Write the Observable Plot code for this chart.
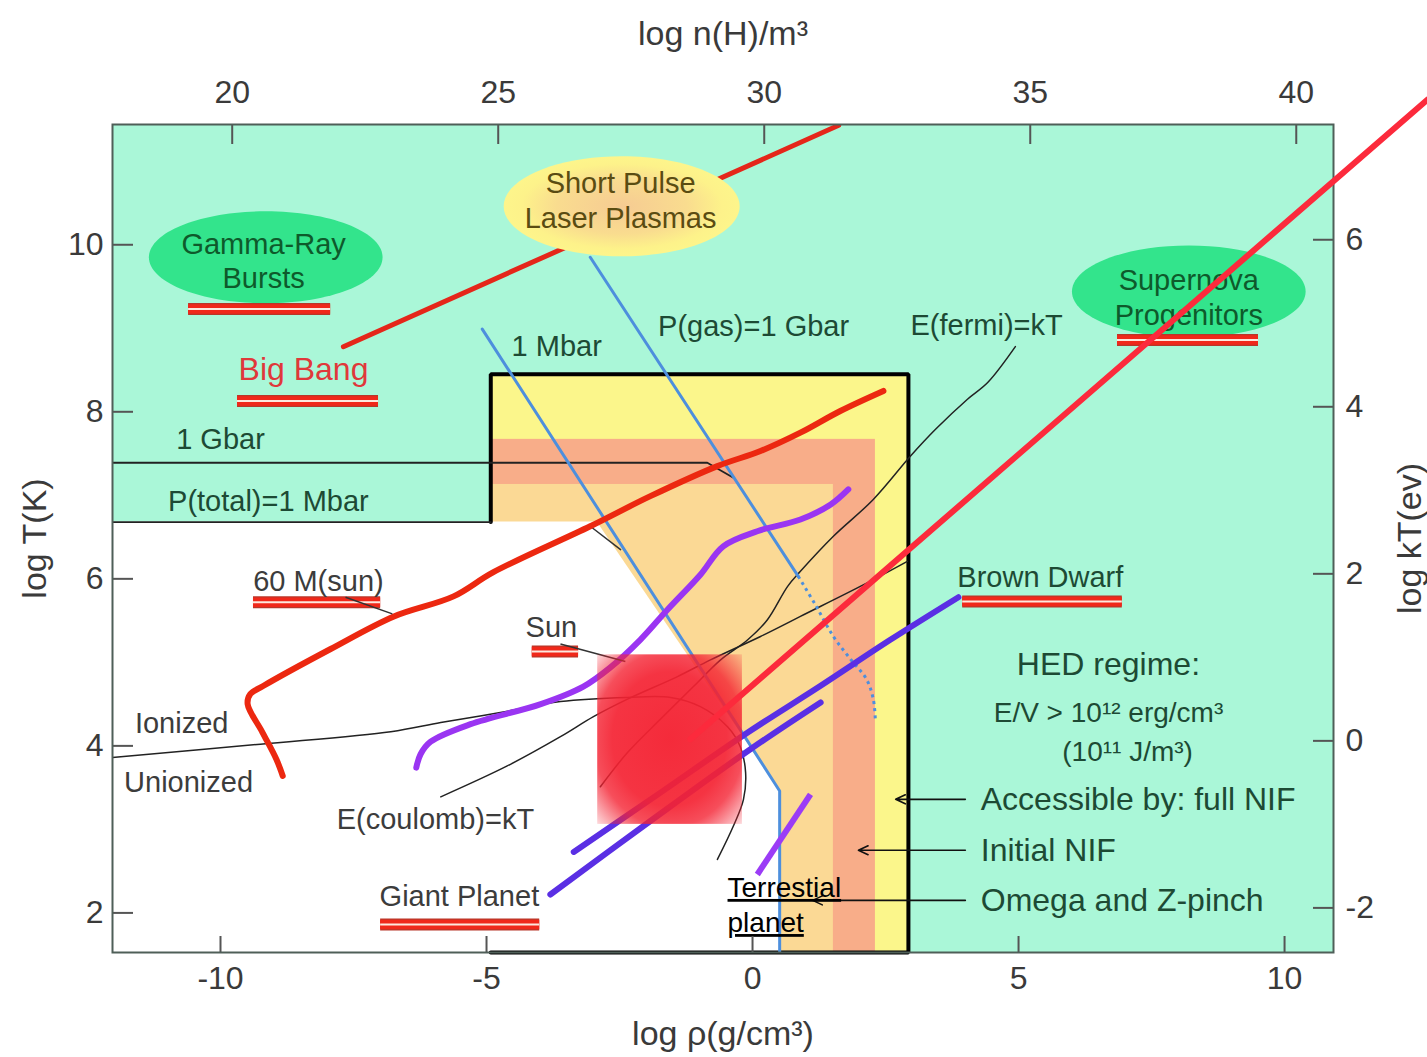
<!DOCTYPE html>
<html>
<head>
<meta charset="utf-8">
<script src="https://cdn.jsdelivr.net/npm/d3@7"></script>
<script src="https://cdn.jsdelivr.net/npm/@observablehq/plot@0.6"></script>
<style>
  body { margin: 0; background: #fff; }
  g[aria-description="underlined"] text { text-decoration: underline; }
</style>
</head>
<body>
<div id="chart"></div>
<script>
// ---- Frame limits: log ρ (g/cm³) horizontally, log T (K) vertically ----
const rhoDomain = [-12.03, 10.92];
const tDomain = [1.526, 11.44];

// ---- Axis ticks ----
const rhoTicks = [-10, -5, 0, 5, 10];
const tTicks = [2, 4, 6, 8, 10];
const nTicks = [20, 25, 30, 35, 40];      // log n(H)/m³ (top)
const kTTicks = [-2, 0, 2, 4, 6];         // log kT(eV) (right)
const nOffset = 29.78;                    // log n(H)/m³ = log ρ + 29.78
const kOffset = 4.06;                     // log kT(eV) = log T − 4.06

// ---- Regions ----
const mbarT = 6.68;                       // P(total) = 1 Mbar level
const nifLeft = -4.92;
const nifRegions = [
  {name: "full NIF", rhoMax: 2.93, tMax: 8.45},
  {name: "initial NIF", rhoMax: 2.31, tMax: 7.67},
  {name: "Omega / Z-pinch", rhoMax: 1.52, tMax: 7.13}
];
const lowPressureRegion = [[-12.03, 6.68], [-2.92, 6.68], [0.39, 3.58], [0.51, 3.46], [0.51, 1.526]];

// ---- Curves [log ρ, log T] ----
const bigBang = [[-7.69, 8.78], [1.62, 11.43]];
const star60 = [[-8.83, 3.64], [-8.95, 3.84], [-9.21, 4.16], [-9.49, 4.50], [-9.44, 4.62], [-9.19, 4.72],
  [-7.93, 5.16], [-6.74, 5.55], [-5.62, 5.79], [-4.87, 6.08], [-3.05, 6.63], [-1.92, 6.99],
  [-0.66, 7.35], [0.15, 7.53], [0.90, 7.75], [1.65, 8.01], [2.46, 8.25]];
const sunTrack = [[-6.32, 3.74], [-6.24, 3.90], [-6.05, 4.05], [-5.30, 4.26], [-3.98, 4.50], [-3.18, 4.71],
  [-2.67, 4.94], [-2.11, 5.27], [-1.60, 5.63], [-0.98, 6.05], [-0.55, 6.39], [0.09, 6.57],
  [0.90, 6.71], [1.47, 6.89], [1.80, 7.07]];
const mbarLine = [[-5.08, 8.99], [0.39, 3.58], [0.51, 3.46], [0.51, 1.45]];
const gbarSolid = [[-3.05, 9.85], [0.86, 6.03]];
const gbarDotted = [[0.86, 6.03], [1.18, 5.69], [1.52, 5.31], [1.84, 5.04], [2.14, 4.80], [2.27, 4.56], [2.31, 4.29]];
const totalGbar = [[-12.03, 7.39], [-0.85, 7.39], [-0.36, 7.21]];
const totalMbar = [[-12.03, 6.68], [-4.92, 6.68]];
const totalMbarBend = [[-3.05, 6.63], [-2.48, 6.35]];
const fermi = [[4.94, 8.78], [4.42, 8.35], [4.04, 8.15], [3.44, 7.79], [2.97, 7.47], [2.27, 6.95], [1.52, 6.51],
  [0.90, 6.09], [0.66, 5.91], [0.28, 5.51], [-0.09, 5.27], [-0.60, 5.03], [-1.11, 4.71], [-1.73, 4.32],
  [-2.35, 3.92], [-2.86, 3.51]];
const coulomb = [[-5.86, 3.39], [-4.61, 3.76], [-3.61, 4.11], [-2.99, 4.35], [-2.35, 4.56], [-1.41, 4.83],
  [-0.79, 5.03], [0.15, 5.31], [0.90, 5.55], [2.09, 5.93], [2.91, 6.21]];
const ionized = [[-12.03, 3.86], [-9.25, 4.02], [-6.80, 4.17], [-5.86, 4.28], [-4.74, 4.40], [-3.61, 4.53],
  [-2.35, 4.58], [-1.54, 4.58], [-0.98, 4.47], [-0.47, 4.23], [-0.23, 3.99], [-0.13, 3.68],
  [-0.17, 3.36], [-0.36, 3.04], [-0.66, 2.64]];
const brownDwarf = [[-3.36, 2.73], [-1.73, 3.44], [-0.09, 4.16], [1.28, 4.72], [2.59, 5.27], [3.87, 5.78]];
const giantPlanet = [[-3.80, 2.22], [-1.92, 3.10], [-0.04, 3.96], [1.28, 4.52]];
const terrestrial = [[0.09, 2.46], [1.09, 3.42]];

// ---- Annotations [log ρ, log T, text] ----
const greenEllipses = [[-9.15, 9.85], [8.20, 9.44]];
const pulseEllipse = [[-2.46, 10.46]];
const ellipseLabels = [[-9.19, 9.82, "Gamma-Ray\nBursts"], [8.20, 9.38, "Supernova\nProgenitors"]];
const pulseLabel = [[-2.48, 10.54, "Short Pulse\nLaser Plasmas"]];
const bigBangLabel = [[-8.44, 8.53, "Big Bang"]];
const regionLabels = [
  [-3.68, 8.80, "1 Mbar"], [0.02, 9.04, "P(gas)=1 Gbar"], [4.40, 9.05, "E(fermi)=kT"],
  [-10.0, 7.69, "1 Gbar"], [-9.10, 6.94, "P(total)=1 Mbar"], [5.41, 6.04, "Brown Dwarf"]
];
const objectLabels = [
  [-8.16, 5.99, "60 M(sun)"], [-3.78, 5.44, "Sun"], [-10.73, 4.29, "Ionized"],
  [-10.60, 3.58, "Unionized"], [-5.96, 3.14, "E(coulomb)=kT"], [-5.51, 2.22, "Giant Planet"]
];
const hedTitle = [[6.69, 5.0, "HED regime:"]];
const hedLabels = [[6.69, 4.42, "E/V > 10¹² erg/cm³"], [7.05, 3.95, "(10¹¹ J/m³)"]];
const facilityLabels = [
  {name: "Accessible by: full NIF", t: 3.36, tip: 2.69},
  {name: "Initial NIF", t: 2.75, tip: 1.99},
  {name: "Omega and Z-pinch", t: 2.15, tip: 1.13}
];
const facilityTextX = 4.29, facilityTailX = 4.0;
const underlines = [
  [-10.60, -7.93, 9.23], [-9.68, -7.03, 8.13], [6.86, 9.51, 8.86], [-9.38, -6.99, 5.72],
  [-4.14, -3.27, 5.13], [3.95, 6.95, 5.73], [-6.99, -4.0, 1.86]
];
const leaders = [[-7.65, 5.78, -6.77, 5.58], [-3.61, 5.22, -2.39, 5.01]];
const terrestrialLabel = [[-0.47, 2.32, "Terrestial"], [-0.47, 1.90, "planet"]];
const highlightPatch = [{x1: -2.91, x2: -0.19, y1: 3.06, y2: 5.09}];
const highlightRay = [[-1.17, 4.08], [12.69, 11.74]];

// ---- Layout & styles ----
const W = 1427, H = 1057;
const M = {top: 124, right: 94, bottom: 105, left: 112};
const frameW = W - M.left - M.right, frameH = H - M.top - M.bottom;
const TURQ = "#aaf7d8";
const regionFill = {"full NIF": "#fbf68b", "initial NIF": "#f8ad89", "Omega / Z-pinch": "#fbd995"};
const axisColor = "#3a3a3a";
const greenText = "#1d4a34";
const grayText = "#3c3c3c";

// ellipse drawn as a dot symbol: r is the vertical radius
const ellipseSymbol = (aspect) => ({
  draw(ctx, size) {
    const ry = Math.sqrt(size / Math.PI), rx = ry * aspect, k = 0.5523;
    ctx.moveTo(rx, 0);
    ctx.bezierCurveTo(rx, ry * k, rx * k, ry, 0, ry);
    ctx.bezierCurveTo(-rx * k, ry, -rx, ry * k, -rx, 0);
    ctx.bezierCurveTo(-rx, -ry * k, -rx * k, -ry, 0, -ry);
    ctx.bezierCurveTo(rx * k, -ry, rx, -ry * k, rx, 0);
    ctx.closePath();
  }
});

const fx = d => d[0], fy = d => d[1], ft = d => d[2];
const line = (data, o) => Plot.line(data, {x: fx, y: fy, clip: true, strokeLinecap: "round", strokeLinejoin: "round", ...o});
const label = (data, o) => Plot.text(data, {x: fx, y: fy, text: ft, lineHeight: 1.2, ...o});
const outer = nifRegions[0];
const boxOutline = [[nifLeft, mbarT], [nifLeft, outer.tMax], [outer.rhoMax, outer.tMax], [outer.rhoMax, tDomain[0]], [nifLeft, tDomain[0]]];

const svg = Plot.plot({
  width: W, height: H,
  marginTop: M.top, marginRight: M.right, marginBottom: M.bottom, marginLeft: M.left,
  x: {domain: rhoDomain},
  y: {domain: tDomain},
  style: {fontFamily: '"Liberation Sans", Arial, Helvetica, sans-serif', background: "#fff", overflow: "visible"},
  marks: [
    Plot.frame({fill: TURQ, stroke: null}),
    Plot.rect(nifRegions, {x1: nifLeft, x2: "rhoMax", y1: tDomain[0], y2: "tMax", fill: d => regionFill[d.name]}),
    Plot.areaY(lowPressureRegion, {x: fx, y1: tDomain[0], y2: fy, fill: "#fff", clip: true}),
    Plot.line(boxOutline, {x: fx, y: fy, stroke: "#000", strokeWidth: 4, strokeLinejoin: "miter"}),

    // thin black boundaries
    line(totalGbar, {stroke: "#222", strokeWidth: 1.8}),
    line(totalMbar, {stroke: "#222", strokeWidth: 1.8}),
    line(totalMbarBend, {stroke: "#333", strokeWidth: 1.5}),
    line(fermi, {stroke: "#222", strokeWidth: 1.5, curve: "catmull-rom"}),
    line(coulomb, {stroke: "#222", strokeWidth: 1.5, curve: "catmull-rom"}),
    line(ionized, {stroke: "#222", strokeWidth: 1.5, curve: "catmull-rom"}),

    // pressure lines
    line(mbarLine, {stroke: "#4d8fdd", strokeWidth: 3}),
    line(gbarSolid, {stroke: "#4d8fdd", strokeWidth: 3}),
    line(gbarDotted, {stroke: "#4d8fdd", strokeWidth: 3, strokeDasharray: "3,4", strokeLinecap: "butt", curve: "catmull-rom"}),

    // stellar tracks
    line(bigBang, {stroke: "#e5261a", strokeWidth: 5}),
    line(star60, {stroke: "#ec2810", strokeWidth: 6, curve: "catmull-rom"}),
    line(sunTrack, {stroke: "#9a35f2", strokeWidth: 6, curve: "catmull-rom"}),
    line(brownDwarf, {stroke: "#5a2fe4", strokeWidth: 6, curve: "catmull-rom"}),
    line(giantPlanet, {stroke: "#5a2fe4", strokeWidth: 6, curve: "catmull-rom"}),

    // ellipses
    Plot.dot(greenEllipses, {x: fx, y: fy, r: 46, symbol: ellipseSymbol(2.54), fill: "#33e48c", stroke: null}),
    Plot.dot(pulseEllipse, {x: fx, y: fy, r: 50, symbol: ellipseSymbol(2.36), fill: "url(#pulseGlow)", stroke: null}),

    // double red underlines
    Plot.ruleY(underlines, {x1: d => d[0], x2: d => d[1], y: d => d[2], stroke: "#b8372a", strokeWidth: 12}),
    Plot.ruleY(underlines, {x1: d => d[0], x2: d => d[1], y: d => d[2], stroke: "#f0281a", strokeWidth: 9.5}),
    Plot.ruleY(underlines, {x1: d => d[0], x2: d => d[1], y: d => d[2], stroke: "#fde8de", strokeWidth: 2}),

    // leaders from labels
    Plot.link(leaders, {x1: d => d[0], y1: d => d[1], x2: d => d[2], y2: d => d[3], stroke: "#333", strokeWidth: 1.5}),

    // labels
    label(ellipseLabels, {fill: "#0e5a2b", fontSize: 29}),
    label(pulseLabel, {fill: "#5a4c12", fontSize: 29}),
    label(bigBangLabel, {fill: "#e0383a", fontSize: 32}),
    label(regionLabels, {fill: greenText, fontSize: 29}),
    label(objectLabels, {fill: grayText, fontSize: 29}),
    label(hedTitle, {fill: greenText, fontSize: 32}),
    label(hedLabels, {fill: greenText, fontSize: 28}),
    Plot.text(facilityLabels, {x: facilityTextX, y: "t", text: "name", textAnchor: "start", fill: greenText, fontSize: 32}),
    Plot.arrow(facilityLabels, {x1: facilityTailX, x2: "tip", y1: "t", y2: "t", stroke: "#111", strokeWidth: 1.6, headLength: 10, headAngle: 50}),

    // highlight patch and purple terrestrial track
    Plot.rect(highlightPatch, {x1: "x1", x2: "x2", y1: "y1", y2: "y2", fill: "url(#patchGlow)"}),
    line(terrestrial, {stroke: "#9b3cf6", strokeWidth: 6, strokeLinecap: "butt"}),
    label(terrestrialLabel, {textAnchor: "start", fill: "#000", fontSize: 28, ariaDescription: "underlined"}),

    // axes: labels outside, ticks drawn inward
    Plot.axisX({anchor: "bottom", ticks: rhoTicks, tickFormat: d => String(d), tickSize: 0, tickPadding: 14, fontSize: 32, color: axisColor, label: null}),
    Plot.axisX({anchor: "top", ticks: nTicks.map(n => n - nOffset), tickFormat: d => String(Math.round(d + nOffset)), tickSize: 0, tickPadding: 22, fontSize: 32, color: axisColor, label: null}),
    Plot.axisY({anchor: "left", ticks: tTicks, tickFormat: d => String(d), tickSize: 0, tickPadding: 9, fontSize: 32, color: axisColor, label: null}),
    Plot.axisY({anchor: "right", ticks: kTTicks.map(k => k + kOffset), tickFormat: d => String(Math.round(d - kOffset)), tickSize: 0, tickPadding: 12, fontSize: 32, color: axisColor, label: null}),
    Plot.ruleX(rhoTicks, {x: d => d, insetTop: frameH - 16, stroke: "#555", strokeWidth: 2}),
    Plot.ruleX(nTicks, {x: n => n - nOffset, insetBottom: frameH - 20, stroke: "#555", strokeWidth: 2}),
    Plot.ruleY(tTicks, {y: d => d, insetRight: frameW - 21, stroke: "#555", strokeWidth: 2}),
    Plot.ruleY(kTTicks, {y: k => k + kOffset, insetLeft: frameW - 20, stroke: "#555", strokeWidth: 2}),
    Plot.frame({stroke: "#4f5f58", strokeWidth: 2}),

    // axis titles
    Plot.text(["log n(H)/m³"], {text: d => d, frameAnchor: "top", dy: -104, fontSize: 34, fill: axisColor}),
    Plot.text(["log ρ(g/cm³)"], {text: d => d, frameAnchor: "bottom", dy: 92, fontSize: 34, fill: axisColor}),
    Plot.text(["log T(K)"], {text: d => d, frameAnchor: "left", textAnchor: "middle", dx: -77, rotate: -90, fontSize: 34, fill: axisColor}),
    Plot.text(["log kT(ev)"], {text: d => d, frameAnchor: "right", textAnchor: "middle", dx: 77, rotate: -90, fontSize: 34, fill: axisColor}),

    // ray drawn last so it sits over the frame
    Plot.line(highlightRay, {x: fx, y: fy, stroke: "#fc2a3c", strokeWidth: 6, clip: false})
  ]
});

// gradients used by the pulse ellipse and the highlight patch
const defs = d3.select(svg).insert("defs", ":first-child");
const pg = defs.append("radialGradient").attr("id", "pulseGlow");
[[0, "#f6cb93"], [0.55, "#f9dc8f"], [0.85, "#fdf28a"], [1, "#fdf58b"]].forEach(([o, c]) =>
  pg.append("stop").attr("offset", o).attr("stop-color", c));
const rg = defs.append("radialGradient").attr("id", "patchGlow").attr("r", "0.72");
[[0, 0.96], [0.55, 0.92], [0.72, 0.8], [1, 0.12]].forEach(([o, a]) =>
  rg.append("stop").attr("offset", o).attr("stop-color", "#f42232").attr("stop-opacity", a));

document.getElementById("chart").append(svg);
</script>
</body>
</html>
